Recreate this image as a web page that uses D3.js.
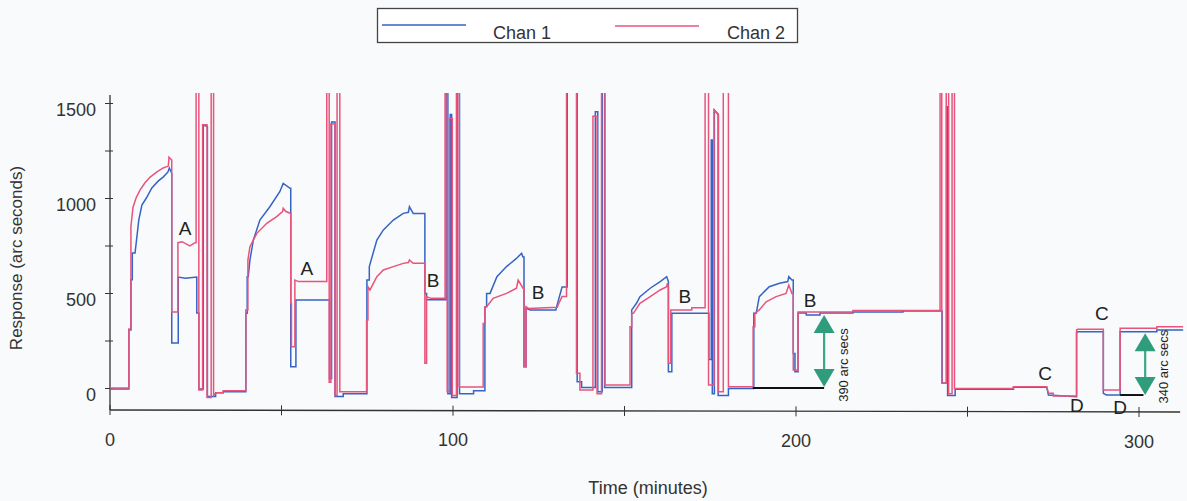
<!DOCTYPE html>
<html><head><meta charset="utf-8">
<script src="https://cdn.jsdelivr.net/npm/d3@7"></script>
<style>
html,body{margin:0;padding:0;background:#f9fafb;}
svg{display:block;font-family:"Liberation Sans",Arial,sans-serif;}
</style></head>
<body>
<svg id="chart" width="1187" height="501"></svg>
<script>
// ---------- data ----------
const seriesNames = ["Chan 1", "Chan 2"];
const seriesColors = ["#3563c6", "#e8547c"];
const xTicksMajor = [0, 100, 200, 300];
const xTicksAll = [0, 50, 100, 150, 200, 250, 300];
const yTicksMajor = [0, 500, 1000, 1500];
const yTicksAll = [0, 250, 500, 750, 1000, 1250, 1500];

// [time (min), response (arc s)]  -- values above the top are off-scale
const chan1 = [
[0,-5],[5.5,-5],[5.5,305],[6.1,305],[6.1,570],[6.5,570],[6.5,710],[7.3,710],[8.4,885],[9.3,963],[10.6,1000],[12.2,1053],[14.1,1090],[15.5,1110],[16.9,1137],[17.3,1158],[18.0,1130],[18.0,237],[19.9,237],[19.9,584],[22.0,578],[25.3,584],[25.3,395],[25.9,395],[25.9,-5],[27.2,-5],[27.2,1385],[28.4,1375],[28.4,-45],[30.8,-45],[30.8,-25],[33.0,-25],[33.0,-20],[39.6,-20],
[39.6,393],[40.0,393],[40.0,586],[40.3,586],[40.8,674],[41.8,779],[43.7,884],[46.6,954],[49.5,1033],[50.5,1077],[52.5,1051],[52.7,1051],[52.7,112],[54.2,112],[54.2,463],[64.0,463],
[64.0,50],[64.6,50],[64.6,1400],[65.6,1400],[65.6,-45],[68.0,-45],[68.0,-30],[74.9,-30],
[74.9,568],[75.6,568],[75.6,639],[77.8,779],[79.7,832],[82.6,884],[85.5,919],[87.0,925],[87.3,954],[88.4,919],[91.8,919],[91.8,498],[92.3,498],[92.3,465],[98.0,465],
[98.0,1700],[98.5,1700],[98.5,-30],[99.2,-30],[99.2,1440],[99.6,1440],[99.6,-50],[101.2,-50],[101.2,1700],[101.9,1700],[101.9,-30],[106.0,-30],[106.0,-15],[109.3,-15],
[109.3,428],[109.8,428],[109.8,498],[110.8,498],[112.8,586],[115.6,639],[118.5,682],[120.0,709],[120.4,690],[120.7,690],[120.7,112],[121.3,112],[121.3,420],[122.5,411],[130.0,411],[130.4,440],[131.8,531],[133.3,531],
[133.3,1700],[136.2,1700],[136.2,33],[137.5,33],[137.5,3],[141.5,3],[141.5,1454],[142.2,1454],[142.2,-20],[143.5,-20],[143.5,1700],[144.2,1700],[144.2,3],[152.1,3],
[152.1,411],[153.5,446],[154.5,481],[157.5,525],[160.4,560],[162.3,586],[162.8,560],[162.8,86],[163.8,86],[163.8,393],[174.6,393],
[174.6,150],[175.3,150],[175.3,1305],[175.6,1305],[175.6,-30],[176.2,-30],[176.2,1463],[177.3,1440],[177.3,-40],[180.3,-40],[180.3,-2],[187.7,-2],
[187.7,393],[188.4,393],[189.3,481],[192.2,533],[195.2,551],[197.6,560],[197.9,586],[198.8,568],[199.2,568],[199.2,182],[199.7,182],[199.7,86],[200.6,86],[200.6,395],[203.0,395],[203.0,384],[207.0,384],[207.0,395],[216.6,395],[216.6,400],[231.2,400],[231.2,405],[242.6,405],
[242.6,26],[243.9,26],[243.9,1480],[244.2,1480],[244.2,-40],[246.4,-40],[246.4,-7],[263.4,-7],[263.4,4],[273.1,4],[273.6,-37],[281.8,-46],[281.8,290],[282.2,296],[289.6,296],[289.6,-28],[290.5,-37],[294.5,-37],[294.5,296],[305.2,296],[305.2,305],[312.9,305]
];
const chan2 = [
[0,0],[5.5,0],[5.5,310],[6.1,310],[6.1,850],[6.7,950],[7.6,1000],[8.7,1040],[10.2,1080],[11.7,1110],[13.7,1137],[15.5,1158],[17.0,1168],[17.2,1215],[18.0,1200],[18.0,400],[19.8,400],[19.8,765],[21.0,770],[23.3,748],[24.8,765],[25.1,765],[25.1,1700],[25.9,1700],[25.9,-10],[27.0,-10],[27.0,1385],[28.3,1385],[28.3,-50],[29.5,-50],[29.5,1700],[30.2,1700],[30.2,-40],[31.0,-25],[33.0,-25],[33.0,-15],[39.6,-15],
[39.6,410],[40.2,410],[40.2,673],[40.8,744],[42.8,814],[45.7,867],[48.6,902],[50.3,928],[50.5,946],[51.2,930],[52.6,919],[52.7,919],[52.7,446],[52.9,446],[52.9,217],[53.9,217],[53.9,568],[55.0,560],[63.2,560],
[63.2,1700],[63.9,1700],[63.9,30],[64.4,30],[64.4,1390],[65.6,1390],[65.6,-40],[66.2,-40],[66.2,1700],[67.0,1700],[67.0,-20],[74.8,-20],
[74.8,358],[75.2,358],[75.2,533],[75.8,516],[77.8,586],[79.7,621],[82.6,639],[85.5,656],[87.0,660],[87.3,674],[88.4,656],[91.8,656],[91.8,130],[92.3,130],[92.3,481],[93.5,472],[97.7,472],
[97.7,1700],[98.3,1700],[98.3,-20],[99.0,-20],[99.0,1420],[99.8,1420],[99.8,-40],[101.0,-40],[101.0,1700],[101.8,1700],[101.8,5],[108.8,5],
[108.8,340],[109.3,340],[109.3,428],[109.8,428],[111.7,472],[115.6,498],[118.5,525],[119.0,568],[120.4,525],[120.7,525],[120.7,112],[121.3,112],[121.3,428],[122.0,419],[130.4,425],[131.0,451],[131.8,481],[133.1,481],
[133.1,1700],[136.0,1700],[136.0,77],[137.0,77],[137.0,-10],[140.8,-10],[140.8,1430],[142.0,1430],[142.0,-30],[143.3,-30],[143.3,1700],[144.3,1700],[144.3,16],[151.6,16],
[151.6,323],[152.1,323],[152.1,393],[152.6,393],[154.5,446],[157.5,481],[160.4,516],[162.3,533],[162.5,551],[162.8,530],[162.8,130],[163.5,130],[163.5,411],[169.6,411],[169.6,423],[173.5,423],
[173.5,1700],[174.5,1700],[174.5,16],[176.1,16],[176.1,1463],[177.4,1440],[177.4,-20],[178.8,-20],[178.8,1700],[180.3,1700],[180.3,7],[187.5,7],
[187.5,323],[188.0,323],[188.0,393],[189.3,411],[191.3,454],[194.2,481],[197.1,498],[197.9,542],[198.8,498],[199.2,498],[199.2,95],[200.6,95],[200.6,400],[216.6,400],[216.6,408],[242.0,408],
[242.0,1700],[242.5,1700],[242.5,26],[243.8,26],[243.8,1700],[244.5,1700],[244.5,-30],[245.5,-30],[245.5,1700],[246.2,1700],[246.2,-2],[263.4,-2],[263.4,7],[273.1,7],[273.6,-28],[275.0,-28],[275.0,-42],[281.8,-42],[281.8,305],[282.2,309],[289.6,309],[289.6,-10],[294.5,-10],[294.5,314],[305.2,314],[305.2,323],[312.9,323]
];

// annotation letters [text, time, response]
const letterText = ["A","A","B","B","B","B","C","C","D","D"];
const letterTime = [21.9, 57.4, 94.2, 124.8, 167.6, 204.1, 272.6, 289.2, 281.9, 294.5];
const letterResp = [842, 632, 568, 505, 484, 463, 79, 395, -89, -100];

// baseline bars and arrows
const barStart = [187.4, 294.5];
const barEnd = [208.2, 301.3];
const barLevel = [0, -37];
const arrowTime = [208.2, 301.8];
const arrowLow = [5, -37];
const arrowHigh = [384, 288];
const arrowText = ["390 arc secs", "340 arc secs"];
const arrowTextTime = [213.8, 307.0];
const arrowTextResp = [121, 112];

// ---------- drawing ----------
const svg = d3.select("#chart");
const x = d3.scaleLinear().domain([0, 300]).range([110, 1139]);
const y = d3.scaleLinear().domain([0, 1500]).range([388, 103]);
const axisY0 = 410;
const plotTop = 93;

svg.append("defs").append("clipPath").attr("id", "clip")
  .append("rect").attr("x", x(0)).attr("y", plotTop)
  .attr("width", x(313) - x(0)).attr("height", axisY0 - plotTop);

// axes lines
svg.append("line").attr("x1", x(0)).attr("x2", x(0)).attr("y1", 95).attr("y2", axisY0)
  .attr("stroke", "#333").attr("stroke-width", 1.3);
svg.append("line").attr("x1", x(0)).attr("x2", x(312)).attr("y1", axisY0).attr("y2", axisY0 + 2)
  .attr("stroke", "#333").attr("stroke-width", 1.3);

// y axis
const yAxis = d3.axisLeft(y).tickValues(yTicksAll)
  .tickFormat(d => yTicksMajor.includes(d) ? d : "").tickSize(5).tickPadding(9);
const gy = svg.append("g").attr("transform", `translate(${x(0)},0)`).call(yAxis);
gy.select(".domain").remove();
gy.selectAll(".tick line").attr("x2", -5).attr("x1", 3).attr("stroke", "#333");
gy.selectAll(".tick text").attr("font-size", 18).attr("fill", "#333").attr("dy", "0.7em")
  .attr("font-family", "Liberation Sans, Arial, sans-serif");

// x axis
const xAxis = d3.axisBottom(x).tickValues(xTicksAll)
  .tickFormat(d => xTicksMajor.includes(d) ? d : "").tickSize(5).tickPadding(18);
const gx = svg.append("g").attr("transform", `translate(0,${axisY0})`).call(xAxis);
gx.select(".domain").remove();
gx.selectAll(".tick line").attr("y1", -5).attr("y2", 5).attr("stroke", "#333");
gx.selectAll(".tick text").attr("font-size", 18).attr("fill", "#333")
  .attr("font-family", "Liberation Sans, Arial, sans-serif");
gx.selectAll(".tick").attr("transform", (d, i) => `translate(${x(d)},${d / 150})`);

// axis titles
svg.append("text").attr("x", 648).attr("y", 494).attr("text-anchor", "middle")
  .attr("font-size", 18).attr("fill", "#333").text("Time (minutes)");
svg.append("text").attr("transform", "translate(22,258) rotate(-90)").attr("text-anchor", "middle")
  .attr("font-size", 17).attr("fill", "#333").text("Response (arc seconds)");

// traces
const line = d3.line().x(d => x(d[0])).y(d => y(d[1]));
const plot = svg.append("g").attr("clip-path", "url(#clip)");
[chan1, chan2].forEach((s, i) => {
  plot.append("path").datum(s).attr("d", line).attr("fill", "none")
    .attr("stroke", seriesColors[i]).attr("stroke-width", 1.5).attr("stroke-linejoin", "miter");
});

// baseline bars
barStart.forEach((s, i) => {
  svg.append("line").attr("x1", x(s)).attr("x2", x(barEnd[i]))
    .attr("y1", y(barLevel[i])).attr("y2", y(barLevel[i]))
    .attr("stroke", "#111").attr("stroke-width", 2);
});

// arrows
const green = "#2f9c7b";
arrowTime.forEach((t, i) => {
  const ax = x(t), yl = y(arrowLow[i]), yh = y(arrowHigh[i]);
  svg.append("line").attr("x1", ax).attr("x2", ax).attr("y1", yh + 17).attr("y2", yl - 17)
    .attr("stroke", "#3aa884").attr("stroke-width", 2.2);
  svg.append("path").attr("d", `M${ax},${yh} L${ax - 10.5},${yh + 18} L${ax + 10.5},${yh + 18} Z`).attr("fill", green);
  svg.append("path").attr("d", `M${ax},${yl} L${ax - 10.5},${yl - 18} L${ax + 10.5},${yl - 18} Z`).attr("fill", green);
  svg.append("text").attr("transform", `translate(${x(arrowTextTime[i])},${y(arrowTextResp[i])}) rotate(-90)`)
    .attr("text-anchor", "middle").attr("dy", "0.35em").attr("font-size", 13).attr("fill", "#222")
    .text(arrowText[i]);
});

// letters
letterText.forEach((L, i) => {
  svg.append("text").attr("x", x(letterTime[i])).attr("y", y(letterResp[i]))
    .attr("text-anchor", "middle").attr("dy", "0.36em").attr("font-size", 19).attr("fill", "#222").text(L);
});

// legend
const lg = svg.append("g");
lg.append("rect").attr("x", 377.5).attr("y", 8.5).attr("width", 420).attr("height", 34)
  .attr("fill", "#fff").attr("stroke", "#444").attr("stroke-width", 1.3);
const legX = [382, 615], legTextX = [493, 727];
seriesNames.forEach((n, i) => {
  lg.append("line").attr("x1", legX[i]).attr("x2", legX[i] + 84).attr("y1", 25 + i).attr("y2", 25 + i)
    .attr("stroke", seriesColors[i]).attr("stroke-width", 1.5);
  lg.append("text").attr("x", legTextX[i]).attr("y", 39).attr("font-size", 18).attr("fill", "#333").text(n);
});
</script>
</body></html>
